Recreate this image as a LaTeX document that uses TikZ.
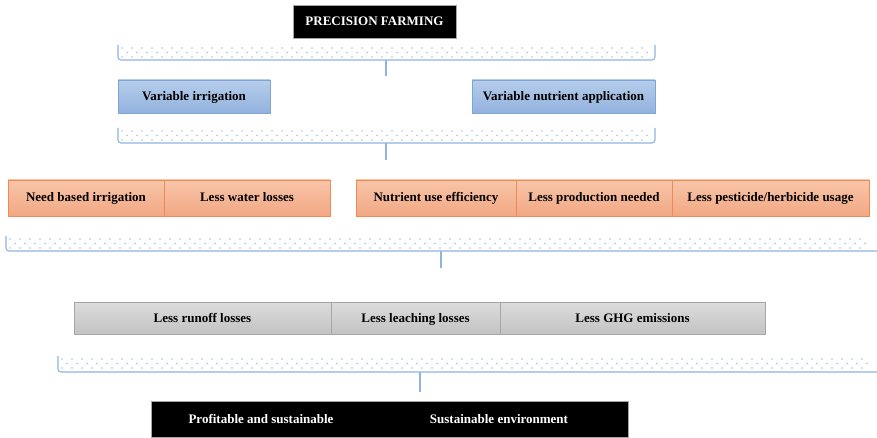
\documentclass[tikz,border=0pt]{standalone}
\usepackage{fontspec}
\setmainfont{Liberation Serif}
\definecolor{blueline}{HTML}{7FA5D6}
\definecolor{bluetop}{HTML}{B6CDEB}
\definecolor{bluebot}{HTML}{92B2DE}
\definecolor{orline}{HTML}{EE8A55}
\definecolor{ortop}{HTML}{F8C5A9}
\definecolor{orbot}{HTML}{F2A883}
\definecolor{grline}{HTML}{A6A6A6}
\definecolor{grtop}{HTML}{DCDCDC}
\definecolor{grbot}{HTML}{C3C3C3}
\definecolor{brcol}{HTML}{8DB4E2}
\definecolor{dotcol}{HTML}{A3C1E8}
% dotted band of a bracket: x1, x2, top, bottom
\newcommand\dotband[4]{%
  \pgfmathtruncatemacro\nd{((#2)-(#1)-12)/10}%
  \foreach \r in {0,1,2}{%
    \foreach \i in {0,...,\nd}{%
      \fill[dotcol] ({#1+4+10*\i+5*mod(\r,2)},{#3+3+4.5*\r}) circle (0.9);
    }%
  }%
}
\begin{document}
\begin{tikzpicture}[x=1pt,y=-1pt,
  txt/.style={font=\fontsize{13}{15}\selectfont\bfseries},
  cell/.style={txt, inner sep=0pt, text height=9pt, text depth=1pt, line width=0.9pt},
  darkcell/.style={cell, fill=black, text=white},
  bluecell/.style={cell, draw=blueline, top color=bluetop, bottom color=bluebot},
  orcell/.style={cell, draw=orline, top color=ortop, bottom color=orbot},
  grcell/.style={cell, draw=grline, top color=grtop, bottom color=grbot},
  brc/.style={draw=brcol, line width=1.1pt, rounded corners=3pt},
  tick/.style={draw=brcol, line width=1.1pt}
]
\useasboundingbox (0,0) rectangle (877,438);

% top title
\node[darkcell, draw=gray!70, minimum width=163, minimum height=33] (pf) at (374.5,21.5) {PRECISION FARMING};

% bracket 1
\dotband{118}{655}{45}{60}
\draw[brc] (118,45) -- (118,60) -- (655,60) -- (655,45);
\coordinate (b1) at (386,60);
\coordinate (t1) at (386,76);
\draw[tick] (b1) -- (t1);

% precision tools
\node[bluecell, minimum width=152, minimum height=33] (vi) at (194,96.5) {Variable irrigation};
\node[bluecell, minimum width=183, minimum height=33] (vn) at (563.5,96.5) {Variable nutrient application};

% bracket 2
\dotband{118}{655}{128}{143}
\draw[brc] (118,128) -- (118,143) -- (655,143) -- (655,128);
\coordinate (b2) at (386,143);
\coordinate (t2) at (386,160);
\draw[tick] (b2) -- (t2);

% direct effects
\node[orcell, minimum width=156, minimum height=36] (nb) at (86,198) {Need based irrigation};
\node[orcell, minimum width=166, minimum height=36] (lw) at (247,198) {Less water losses};
\node[orcell, minimum width=160, minimum height=36] (nu) at (436,198) {Nutrient use efficiency};
\node[orcell, minimum width=156, minimum height=36] (lp) at (594,198) {Less production needed};
\node[orcell, minimum width=197, minimum height=36] (lh) at (770.5,198) {Less pesticide/herbicide usage};

% bracket 3
\dotband{6}{877}{236}{251}
\draw[brc] (6,236) -- (6,251) -- (877,251);
\coordinate (b3) at (441,251);
\coordinate (t3) at (441,268);
\draw[tick] (b3) -- (t3);

% environmental effects
\node[grcell, minimum width=257, minimum height=32] (rl) at (202.5,318) {Less runoff losses};
\node[grcell, minimum width=169, minimum height=32] (ll) at (415.5,318) {Less leaching losses};
\node[grcell, minimum width=265, minimum height=32] (gh) at (632.5,318) {Less GHG emissions};

% bracket 4
\dotband{58}{877}{356}{372}
\draw[brc] (58,356) -- (58,372) -- (877,372);
\coordinate (b4) at (420,372);
\coordinate (t4) at (420,392);
\draw[tick] (b4) -- (t4);

% outcomes
\node[darkcell, minimum width=218, minimum height=35] (ps) at (261,419.5) {Profitable and sustainable};
\node[darkcell, minimum width=258, minimum height=35] (se) at (499,419.5) {Sustainable environment};
\draw[gray!70, line width=0.8pt] (ps.north west) rectangle (se.south east);
\end{tikzpicture}
\end{document}
